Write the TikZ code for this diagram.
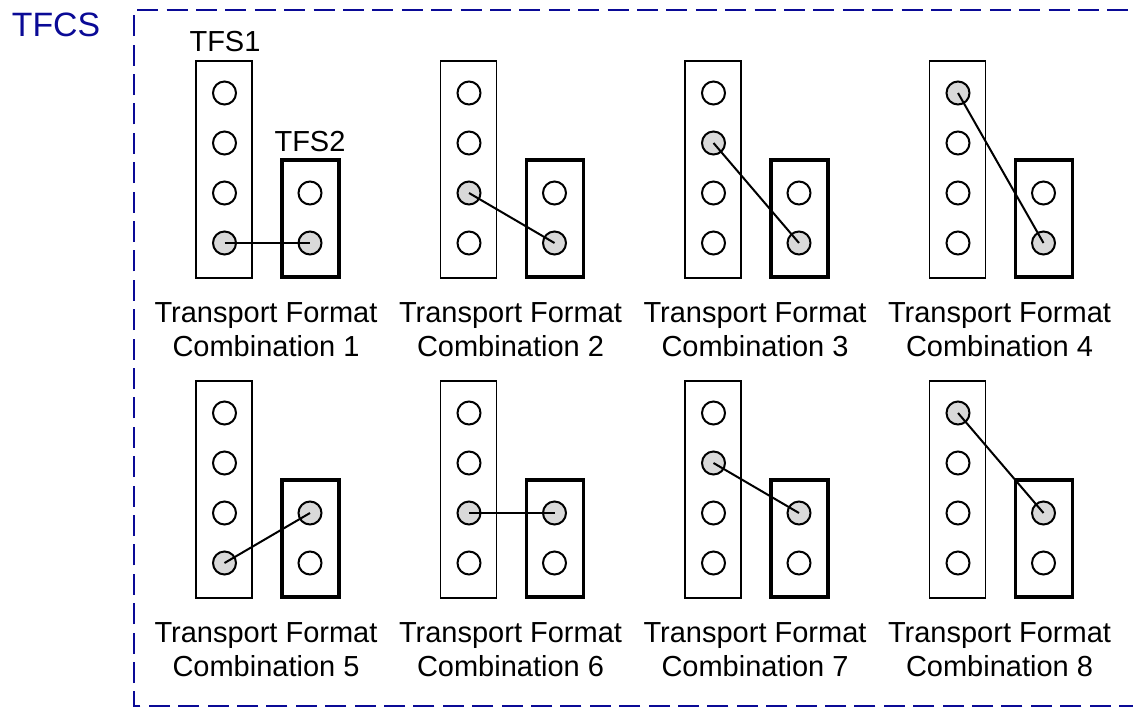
\documentclass[tikz,border=0pt]{standalone}
\usepackage{fontspec}
\setmainfont{Liberation Sans}
\definecolor{tfcsblue}{RGB}{10,10,150}
\definecolor{selgray}{RGB}{217,217,217}
\tikzset{
  tfsone/.style={draw, line width=0.8pt, minimum width=28pt, minimum height=108.5pt, inner sep=0pt},
  tfstwo/.style={draw, line width=1.6pt, minimum width=28.5pt, minimum height=58.5pt, inner sep=0pt},
  dot/.style={draw, circle, line width=1pt, minimum size=11.5pt, inner sep=0pt},
  tfc/.style={align=center, font=\fontsize{14.5}{17}\selectfont},
  link/.style={line width=1pt},
  tfcsline/.style={draw=tfcsblue, line width=1.4pt, dash pattern=on 10.5pt off 4.2pt}
}
\begin{document}
\begin{tikzpicture}[x=0.5pt, y=-0.5pt]
            \useasboundingbox (0,0) rectangle (1133,707);
            %tfcs box
            \node[text=tfcsblue, font=\fontsize{16.9}{20}\selectfont] (tfcs) at (56, 25) {TFCS};
            \draw[tfcsline] (1140, 706) -- (134, 706) -- (134, 10) -- (1140, 10);

            %i = combination, k = tfs1 row, m = tfs2 row
            \foreach \i/\k/\m in {1/4/2, 2/3/2, 3/2/2, 4/1/2, 5/4/1, 6/3/1, 7/2/1, 8/1/1} {
                \pgfmathsetmacro\dx{mod(\i-1,4)*244.5}
                \pgfmathsetmacro\dy{int((\i-1)/4)*320}
                \node[tfsone] (a\i) at (224+\dx, 169.5+\dy) {};
                \node[tfstwo] (b\i) at (310.5+\dx, 218.5+\dy) {};
                \foreach \r in {1,...,4} {
                    \ifnum\r=\k \def\fc{selgray}\else\def\fc{white}\fi
                    \node[dot, fill=\fc] (a\i-\r) at (224.5+\dx, 43+50*\r+\dy) {};
                }
                \foreach \r in {1,2} {
                    \ifnum\r=\m \def\fc{selgray}\else\def\fc{white}\fi
                    \node[dot, fill=\fc] (b\i-\r) at (310+\dx, 143+50*\r+\dy) {};
                }
                \draw[link] (a\i-\k.center) -- (b\i-\m.center);
                \node[tfc] (t\i) at (266+\dx, 330+\dy) {Transport Format\\Combination \i};
            }

            \node[tfc] (s1) at (225, 42) {TFS1};
            \node[tfc] (s2) at (310, 142) {TFS2};
\end{tikzpicture}
\end{document}
